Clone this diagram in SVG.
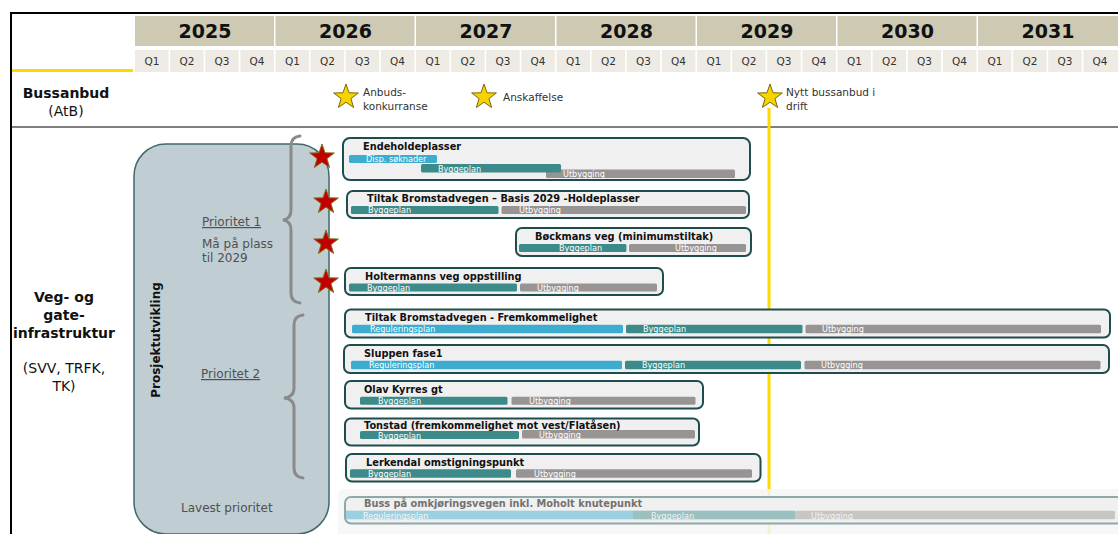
<svg xmlns="http://www.w3.org/2000/svg" xmlns:xlink="http://www.w3.org/1999/xlink" width="1118" height="534" viewBox="0 0 1118 534">
<style>
.yr{fill:#cdc9b2}
.qc{fill:#eeebe5}
.yt{font-family:"DejaVu Sans",sans-serif;font-weight:bold;font-size:19px;fill:#111;text-anchor:middle}
.qt{font-family:"DejaVu Sans",sans-serif;font-size:10.5px;fill:#333;text-anchor:middle}
.ms{font-family:"DejaVu Sans",sans-serif;font-size:10.5px;fill:#333}
.lbl{font-family:"DejaVu Sans",sans-serif;font-size:14px;fill:#111;text-anchor:middle}
.lb{font-weight:bold}
.gt{font-family:"DejaVu Sans",sans-serif;font-size:12px;fill:#505050}
.box{fill:#f0f0f0;stroke:#1e4d4f;stroke-width:2}
.ttl{font-family:"DejaVu Sans",sans-serif;font-weight:bold;font-size:9.8px;fill:#111}
.bl{fill:#3eaccf}
.tl{fill:#3d8a8a}
.gr{fill:#999494}
.bt{font-family:"DejaVu Sans Condensed","DejaVu Sans",sans-serif;font-stretch:condensed;font-size:9px;fill:#fff}
.brace{fill:none;stroke:#8a8a8a;stroke-width:3;stroke-linecap:round}
.ystar{fill:#f7d300;stroke:#7a6a10;stroke-width:1}
.rstar{fill:#c00000;stroke:#8a7020;stroke-width:1}
</style>
<defs>
<path id="star" d="M0,-13 L3.06,-4.21 L12.36,-4.02 L4.95,1.61 L7.64,10.52 L0,5.2 L-7.64,10.52 L-4.95,1.61 L-12.36,-4.02 L-3.06,-4.21 Z"/>
</defs>
<rect width="1118" height="534" fill="#ffffff"/>

<g id="frame">
<line x1="10" y1="13" x2="1118" y2="13" stroke="#000" stroke-width="2"/>
<line x1="11" y1="12" x2="11" y2="534" stroke="#000" stroke-width="2"/>
<line x1="12" y1="70.5" x2="133" y2="70.5" stroke="#ffd800" stroke-width="3"/>
<line x1="12" y1="127" x2="1118" y2="127" stroke="#555" stroke-width="1.5"/>
</g>

<g id="timeline-header">
<rect class="yr" x="135" y="16" width="139" height="30"/>
<rect class="yr" x="275.5" y="16" width="139" height="30"/>
<rect class="yr" x="416" y="16" width="139" height="30"/>
<rect class="yr" x="556.5" y="16" width="139" height="30"/>
<rect class="yr" x="697" y="16" width="139" height="30"/>
<rect class="yr" x="837.5" y="16" width="139" height="30"/>
<rect class="yr" x="978" y="16" width="141" height="30"/>
<text class="yt" x="205" y="38">2025</text>
<text class="yt" x="345.5" y="38">2026</text>
<text class="yt" x="486" y="38">2027</text>
<text class="yt" x="626.5" y="38">2028</text>
<text class="yt" x="767" y="38">2029</text>
<text class="yt" x="907.5" y="38">2030</text>
<text class="yt" x="1048" y="38">2031</text>
<g id="quarters">
<rect class="qc" x="135" y="50" width="33.5" height="22"/><rect class="qc" x="170.1" y="50" width="33.5" height="22"/><rect class="qc" x="205.2" y="50" width="33.5" height="22"/><rect class="qc" x="240.4" y="50" width="33.5" height="22"/>
<rect class="qc" x="275.5" y="50" width="33.5" height="22"/><rect class="qc" x="310.6" y="50" width="33.5" height="22"/><rect class="qc" x="345.7" y="50" width="33.5" height="22"/><rect class="qc" x="380.9" y="50" width="33.5" height="22"/>
<rect class="qc" x="416" y="50" width="33.5" height="22"/><rect class="qc" x="451.1" y="50" width="33.5" height="22"/><rect class="qc" x="486.2" y="50" width="33.5" height="22"/><rect class="qc" x="521.4" y="50" width="33.5" height="22"/>
<rect class="qc" x="556.5" y="50" width="33.5" height="22"/><rect class="qc" x="591.6" y="50" width="33.5" height="22"/><rect class="qc" x="626.7" y="50" width="33.5" height="22"/><rect class="qc" x="661.9" y="50" width="33.5" height="22"/>
<rect class="qc" x="697" y="50" width="33.5" height="22"/><rect class="qc" x="732.1" y="50" width="33.5" height="22"/><rect class="qc" x="767.2" y="50" width="33.5" height="22"/><rect class="qc" x="802.4" y="50" width="33.5" height="22"/>
<rect class="qc" x="837.5" y="50" width="33.5" height="22"/><rect class="qc" x="872.6" y="50" width="33.5" height="22"/><rect class="qc" x="907.7" y="50" width="33.5" height="22"/><rect class="qc" x="942.9" y="50" width="33.5" height="22"/>
<rect class="qc" x="978" y="50" width="33.5" height="22"/><rect class="qc" x="1013.1" y="50" width="33.5" height="22"/><rect class="qc" x="1048.2" y="50" width="33.5" height="22"/><rect class="qc" x="1083.4" y="50" width="34.6" height="22"/>
<text class="qt" x="152" y="65">Q1</text><text class="qt" x="187" y="65">Q2</text><text class="qt" x="222" y="65">Q3</text><text class="qt" x="257" y="65">Q4</text>
<text class="qt" x="292.5" y="65">Q1</text><text class="qt" x="327.5" y="65">Q2</text><text class="qt" x="362.5" y="65">Q3</text><text class="qt" x="397.5" y="65">Q4</text>
<text class="qt" x="433" y="65">Q1</text><text class="qt" x="468" y="65">Q2</text><text class="qt" x="503" y="65">Q3</text><text class="qt" x="538" y="65">Q4</text>
<text class="qt" x="573.5" y="65">Q1</text><text class="qt" x="608.5" y="65">Q2</text><text class="qt" x="643.5" y="65">Q3</text><text class="qt" x="678.5" y="65">Q4</text>
<text class="qt" x="714" y="65">Q1</text><text class="qt" x="749" y="65">Q2</text><text class="qt" x="784" y="65">Q3</text><text class="qt" x="819" y="65">Q4</text>
<text class="qt" x="854.5" y="65">Q1</text><text class="qt" x="889.5" y="65">Q2</text><text class="qt" x="924.5" y="65">Q3</text><text class="qt" x="959.5" y="65">Q4</text>
<text class="qt" x="995" y="65">Q1</text><text class="qt" x="1030" y="65">Q2</text><text class="qt" x="1065" y="65">Q3</text><text class="qt" x="1100" y="65">Q4</text>
</g>
</g>

<g id="row-bussanbud">
<text class="lbl lb" x="66" y="98">Bussanbud</text>
<text class="lbl" x="66" y="116">(AtB)</text>
</g>

<g id="row-veg">
<text class="lbl lb" x="64" y="302">Veg- og</text>
<text class="lbl lb" x="64" y="320">gate-</text>
<text class="lbl lb" x="64" y="338">infrastruktur</text>
<text class="lbl" x="64" y="373">(SVV, TRFK,</text>
<text class="lbl" x="64" y="391">TK)</text>
</g>

<g id="prosjektutvikling">
<rect x="134" y="144" width="195" height="390" rx="32" fill="#c0ced3" stroke="#3e6a6c" stroke-width="1.5"/>
<text x="160" y="340" transform="rotate(-90 160 340)" text-anchor="middle" font-family="DejaVu Sans, sans-serif" font-weight="bold" font-size="12px" fill="#111">Prosjektutvikling</text>
<text class="gt" x="202" y="226" text-decoration="underline">Prioritet 1</text>
<text class="gt" x="202" y="248">Må på plass</text>
<text class="gt" x="202" y="262">til 2029</text>
<text class="gt" x="201" y="378" text-decoration="underline">Prioritet 2</text>
<text class="gt" x="181" y="512">Lavest prioritet</text>
</g>

<g id="connectors">
<line x1="769" y1="108" x2="769" y2="534" stroke="#ffd800" stroke-width="3"/>
<path class="brace" d="M300,136 Q291,137 291,146 L291,210 Q291,219 283,220 Q291,221 291,230 L291,293 Q291,302 300,303"/>
<path class="brace" d="M303,315 Q294,316 294,325 L294,388 Q294,397 284,398 Q294,399 294,408 L294,468 Q294,477 303,478"/>
</g>

<g id="m-anbud">
<use href="#star" xlink:href="#star" class="ystar" x="346" y="97"/>
<text class="ms" x="363" y="96">Anbuds-</text>
<text class="ms" x="363" y="110">konkurranse</text>
</g>
<g id="m-anskaffelse">
<use href="#star" xlink:href="#star" class="ystar" x="484" y="97"/>
<text class="ms" x="503" y="101">Anskaffelse</text>
</g>
<g id="m-nytt">
<use href="#star" xlink:href="#star" class="ystar" x="770" y="97"/>
<text class="ms" x="786" y="96">Nytt bussanbud i</text>
<text class="ms" x="786" y="110">drift</text>
</g>

<g id="red-stars">
<use href="#star" xlink:href="#star" class="rstar" x="322" y="157"/>
<use href="#star" xlink:href="#star" class="rstar" x="326" y="202"/>
<use href="#star" xlink:href="#star" class="rstar" x="326" y="243"/>
<use href="#star" xlink:href="#star" class="rstar" x="326" y="282"/>
</g>

<g id="p-endeholdeplasser">
<rect class="box" x="343" y="138" width="407" height="42" rx="7"/>
<text class="ttl" x="363" y="150">Endeholdeplasser</text>
<rect class="bl" x="349" y="155" width="88" height="8" rx="1.5"/>
<rect class="gr" x="546" y="169.5" width="189" height="8.5" rx="1.5"/>
<rect class="tl" x="421" y="164" width="140" height="8.5" rx="1.5"/>
<text class="bt" x="366" y="162">Disp. søknader</text>
<text class="bt" x="438" y="171.5">Byggeplan</text>
<text class="bt" x="563" y="177">Utbygging</text>
</g>

<g id="p-bromstad-basis">
<rect class="box" x="347" y="191" width="402" height="27" rx="6"/>
<text class="ttl" x="367" y="202">Tiltak Bromstadvegen – Basis 2029 -Holdeplasser</text>
<rect class="tl" x="351" y="206" width="147.5" height="8" rx="1.5"/>
<rect class="gr" x="501.5" y="206" width="244.5" height="8" rx="1.5"/>
<text class="bt" x="368" y="213">Byggeplan</text>
<text class="bt" x="519" y="213">Utbygging</text>
</g>

<g id="p-bockmans">
<rect class="box" x="516" y="228" width="235" height="28" rx="6"/>
<text class="ttl" x="535" y="240">Bøckmans veg (minimumstiltak)</text>
<rect class="tl" x="519" y="244" width="107.5" height="8" rx="1.5"/>
<rect class="gr" x="629" y="244" width="117" height="8" rx="1.5"/>
<text class="bt" x="559" y="251">Byggeplan</text>
<text class="bt" x="675" y="251">Utbygging</text>
</g>

<g id="p-holtermanns">
<rect class="box" x="345" y="268" width="318" height="27" rx="6"/>
<text class="ttl" x="365" y="280">Holtermanns veg oppstilling</text>
<rect class="tl" x="349" y="283.5" width="168" height="8" rx="1.5"/>
<rect class="gr" x="520" y="283.5" width="137" height="8" rx="1.5"/>
<text class="bt" x="367" y="290.5">Byggeplan</text>
<text class="bt" x="537" y="290.5">Utbygging</text>
</g>

<g id="p-bromstad-fremkommelighet">
<rect class="box" x="345" y="309.5" width="765" height="28" rx="6"/>
<text class="ttl" x="365" y="321">Tiltak Bromstadvegen - Fremkommelighet</text>
<rect class="bl" x="352" y="324.7" width="271" height="8.5" rx="1.5"/>
<rect class="tl" x="626" y="324.7" width="176.5" height="8.5" rx="1.5"/>
<rect class="gr" x="805.5" y="324.7" width="295.5" height="8.5" rx="1.5"/>
<text class="bt" x="370" y="332">Reguleringsplan</text>
<text class="bt" x="643" y="332">Byggeplan</text>
<text class="bt" x="822" y="332">Utbygging</text>
</g>

<g id="p-sluppen">
<rect class="box" x="344" y="345" width="765" height="28" rx="6"/>
<text class="ttl" x="364" y="357">Sluppen fase1</text>
<rect class="bl" x="351" y="360.7" width="271" height="8.5" rx="1.5"/>
<rect class="tl" x="625" y="360.7" width="176" height="8.5" rx="1.5"/>
<rect class="gr" x="804.5" y="360.7" width="296" height="8.5" rx="1.5"/>
<text class="bt" x="369" y="368">Reguleringsplan</text>
<text class="bt" x="642" y="368">Byggeplan</text>
<text class="bt" x="821" y="368">Utbygging</text>
</g>

<g id="p-olav-kyrres">
<rect class="box" x="345" y="381" width="358" height="27.5" rx="6"/>
<text class="ttl" x="364" y="392.5">Olav Kyrres gt</text>
<rect class="tl" x="360" y="396.7" width="147.5" height="8" rx="1.5"/>
<rect class="gr" x="511.5" y="396.7" width="184" height="8" rx="1.5"/>
<text class="bt" x="378" y="404">Byggeplan</text>
<text class="bt" x="529" y="404">Utbygging</text>
</g>

<g id="p-tonstad">
<rect class="box" x="345" y="418.5" width="354" height="27" rx="6"/>
<rect class="tl" x="360" y="431" width="159" height="8" rx="1.5"/>
<rect class="gr" x="522" y="430" width="173" height="8.5" rx="1.5"/>
<text class="ttl" x="364" y="429">Tonstad (fremkommelighet mot vest/Flatåsen)</text>
<text class="bt" x="378" y="438.5">Byggeplan</text>
<text class="bt" x="539" y="438">Utbygging</text>
</g>

<g id="p-lerkendal">
<rect class="box" x="346" y="454" width="414.5" height="27.5" rx="6"/>
<text class="ttl" x="366" y="465.5">Lerkendal omstigningspunkt</text>
<rect class="tl" x="350" y="469.3" width="161" height="8.5" rx="1.5"/>
<rect class="gr" x="516" y="469.3" width="236" height="8.5" rx="1.5"/>
<text class="bt" x="368" y="477">Byggeplan</text>
<text class="bt" x="534" y="477">Utbygging</text>
</g>

<g id="p-buss-omkjoring">
<rect x="338" y="489" width="790" height="50" rx="6" fill="#f6f6f6" opacity="0.85"/>
<rect x="345" y="497" width="790" height="26.5" rx="6" fill="#f0f0f0" stroke="#8fa8a8" stroke-width="2"/>
<text class="ttl" x="364" y="507" style="fill:#727272">Buss på omkjøringsvegen inkl. Moholt knutepunkt</text>
<rect x="346" y="510.7" width="287" height="8.6" fill="#9ccfdf"/>
<rect x="633" y="510.7" width="162" height="8.6" fill="#9ac0c0"/>
<rect x="795" y="510.7" width="320" height="8.6" rx="1.5" fill="#c8c5c5"/>
<text class="bt" x="363" y="518.5" style="fill:#f4f8fa">Reguleringsplan</text>
<text class="bt" x="651" y="518.5" style="fill:#eef4f4">Byggeplan</text>
<text class="bt" x="811" y="518.5" style="fill:#f2f2f2">Utbygging</text>
</g>
</svg>
